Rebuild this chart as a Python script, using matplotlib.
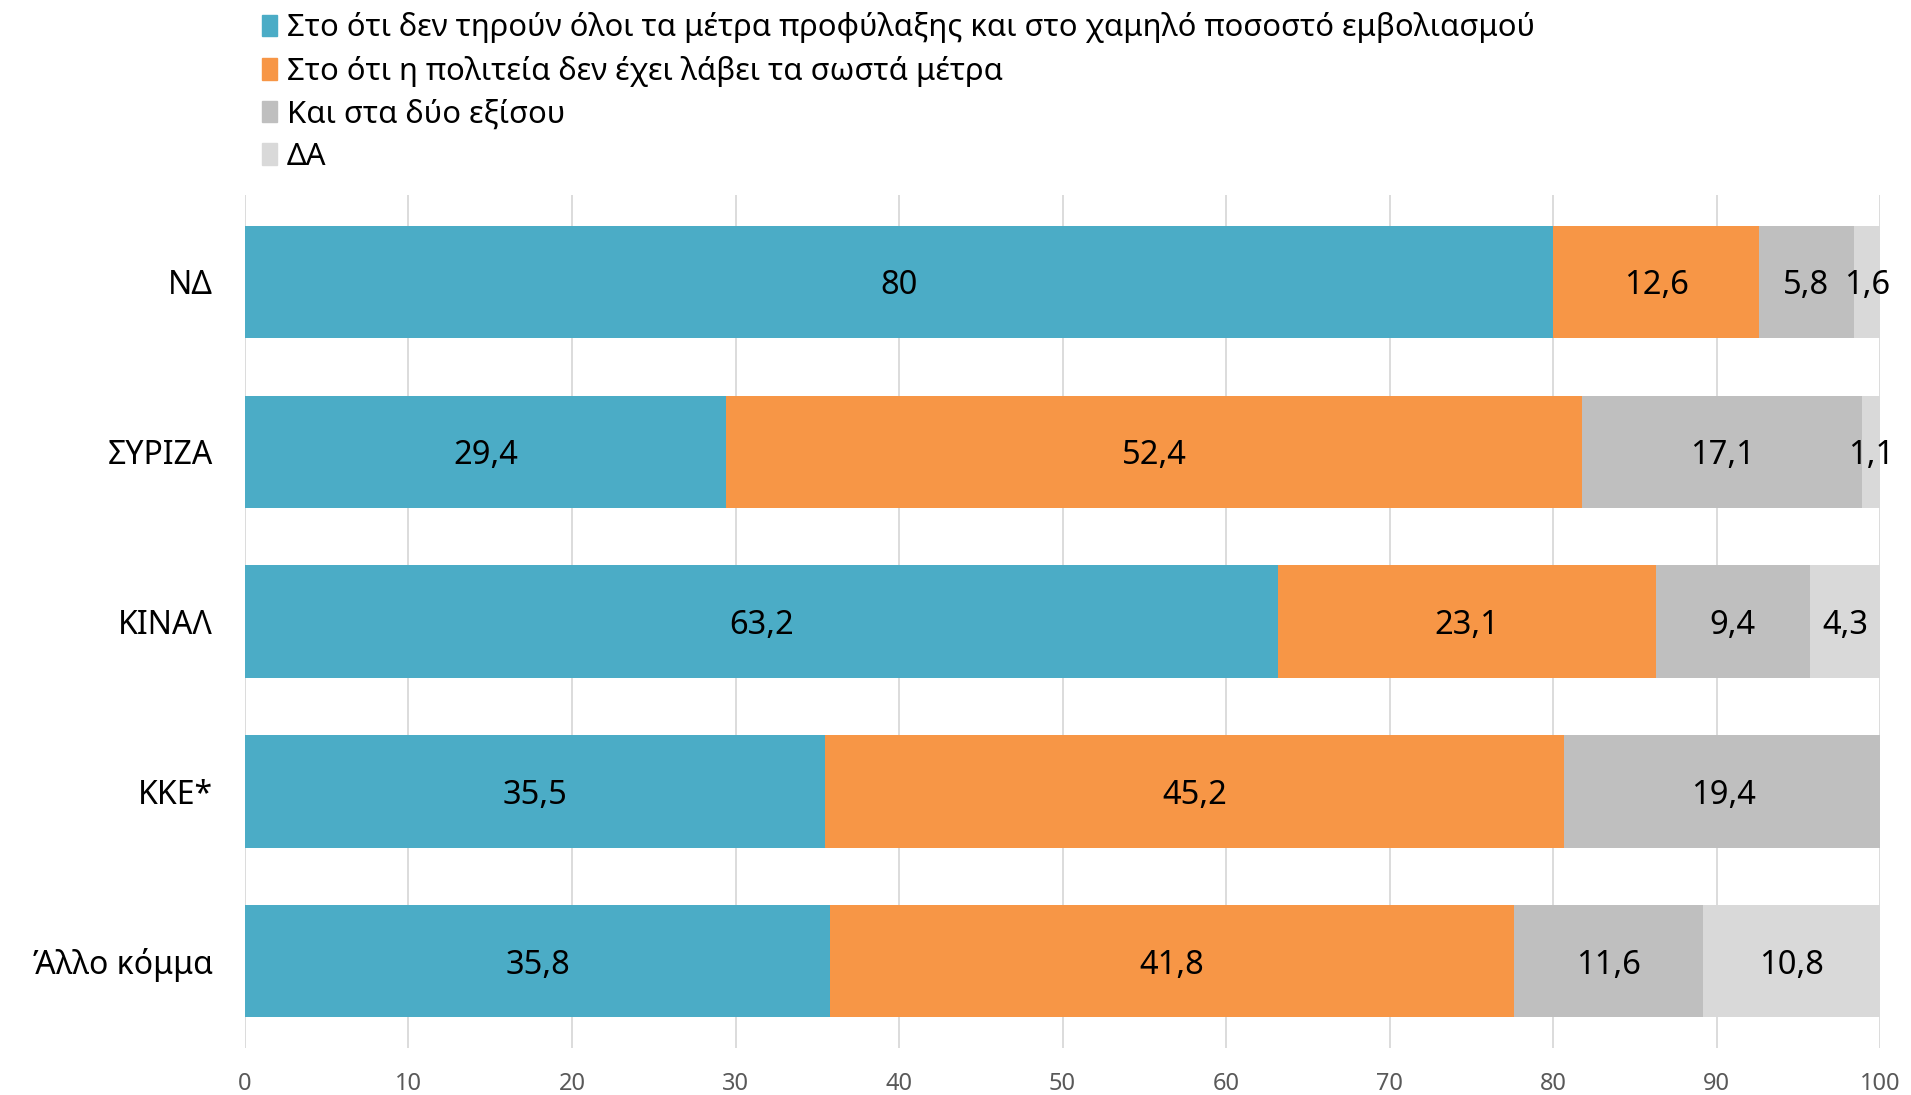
import matplotlib.pyplot as plt
from matplotlib.patches import Patch

plt.rcParams['font.family'] = ['Noto Sans', 'DejaVu Sans']

parties = ["ΝΔ", "ΣΥΡΙΖΑ", "ΚΙΝΑΛ", "ΚΚΕ*", "Άλλο κόμμα"]
series_names = [
    "Στο ότι δεν τηρούν όλοι τα μέτρα προφύλαξης και στο χαμηλό ποσοστό εμβολιασμού",
    "Στο ότι η πολιτεία δεν έχει λάβει τα σωστά μέτρα",
    "Και στα δύο εξίσου",
    "ΔΑ",
]
citizens = [80, 29.4, 63.2, 35.5, 35.8]
state = [12.6, 52.4, 23.1, 45.2, 41.8]
both = [5.8, 17.1, 9.4, 19.4, 11.6]
dk = [1.6, 1.1, 4.3, 0, 10.8]
colors = ["#4BACC6", "#F79646", "#BFBFBF", "#D9D9D9"]

fig = plt.figure(figsize=(19.11, 10.95), dpi=100)
ax = fig.add_axes([0.1282, 0.0429, 0.9838 - 0.1282, 0.8219 - 0.0429])

left = [0.0] * len(parties)
for vals, col in zip([citizens, state, both, dk], colors):
    ax.barh(parties, vals, left=left, color=col, height=0.66, zorder=2)
    for i, v in enumerate(vals):
        if v > 0:
            ax.text(left[i] + v / 2, i, f"{v:g}".replace(".", ","),
                    ha="center", va="center_baseline", fontsize=23.5,
                    color="black", zorder=3)
    left = [l + v for l, v in zip(left, vals)]

ax.set_xlim(0, 100)
ax.set_ylim(4.51, -0.51)
ax.set_xticks(range(0, 101, 10))
ax.grid(axis="x", color="#D9D9D9", linewidth=1.3, zorder=0)
for s in ax.spines.values():
    s.set_visible(False)
ax.tick_params(axis="x", length=0, pad=17, labelsize=17, labelcolor="#595959")
ax.tick_params(axis="y", length=0, pad=23, labelsize=23)

handles = [Patch(color=c) for c in colors]
fig.legend(handles, series_names, loc="upper left", bbox_to_anchor=(0.129, 1.003),
           frameon=False, fontsize=22.3, handlelength=0.5, handleheight=0.7,
           handletextpad=0.3, labelspacing=0.4, borderaxespad=0.1)

fig.savefig("out.png", dpi=100)
